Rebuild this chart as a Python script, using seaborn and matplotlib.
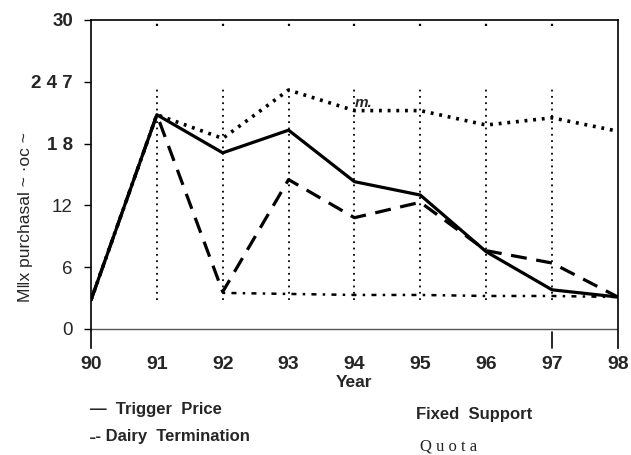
import numpy as np
import pandas as pd
import seaborn as sns
import matplotlib.pyplot as plt

# data
years = [90, 91, 92, 93, 94, 95, 96, 97, 98]
trigger_price = [2.8, 20.8, 17.1, 19.3, 14.3, 13.0, 7.5, 3.8, 3.1]
dairy_termination = [2.8, 20.8, 3.6, 14.5, 10.8, 12.3, 7.6, 6.4, 3.1]
fixed_support = [2.8, 20.8, 18.5, 23.2, 21.2, 21.2, 19.8, 20.5, 19.2]
quota = [np.nan, np.nan, 3.5, 3.4, 3.3, 3.3, 3.2, 3.2, 3.1]

ytick_vals = [0, 6, 12, 18, 24, 30]
ytick_labels = ["0", "6", "12", "1 8", "2 4 7", "30"]

sns.set_style("white")
plt.rcParams['font.family'] = ['Liberation Sans', 'DejaVu Sans']

fig = plt.figure(figsize=(6.31, 4.55), dpi=100)
ax = fig.add_axes([0.1442, 0.2352, 0.835, 0.7209])

df = pd.DataFrame({
    'Year': years,
    'Trigger Price': trigger_price,
    'Dairy Termination': dairy_termination,
    'Fixed Support': fixed_support,
    'Quota': quota,
})

# vertical dotted guide lines
for yr in years[1:-1]:
    ax.vlines(yr, 2.8, 23.5, colors='black', linestyles=(0, (1, 2.5)), lw=1.3)
    ax.plot([yr, yr], [29.4, 30.5], color='black', lw=1.6,
            linestyle=(0, (1, 4)), clip_on=False)

sns.lineplot(data=df, x='Year', y='Quota', ax=ax, color='black', lw=1.8,
             linestyle=(0, (1, 2.5, 2, 2.5)))
sns.lineplot(data=df, x='Year', y='Fixed Support', ax=ax, color='black', lw=2.6,
             linestyle=(0, (0.8, 1.6)))
sns.lineplot(data=df, x='Year', y='Dairy Termination', ax=ax, color='black', lw=2.3,
             linestyle=(0, (5, 3)))
sns.lineplot(data=df, x='Year', y='Trigger Price', ax=ax, color='black', lw=2.3)

ax.axhline(0, color='#555555', lw=1.0)
ax.text(94, 21.3, 'm.', fontsize=11, fontweight='bold', style='italic', ha='left', va='bottom')

ax.set_xlim(90, 98)
ax.set_ylim(-1.85, 30)
ax.set_xticks(years)
ax.set_xticklabels([str(y) for y in years], fontsize=14, fontweight='bold')
ax.tick_params(axis='x', length=0, pad=6)
ax.set_yticks(ytick_vals)
ax.set_yticklabels(ytick_labels, fontsize=13.5)
for lab in ax.get_yticklabels():
    if lab.get_text() in ("1 8", "2 4 7", "30"):
        lab.set_fontweight('bold')
ax.tick_params(axis='y', length=5, width=1, direction='out', color='black', pad=8, left=True)
ax.plot([97, 97], [-1.85, -0.3], color='black', lw=1.2, clip_on=False)

for side in ['left', 'right', 'top']:
    ax.spines[side].set_color('black')
    ax.spines[side].set_linewidth(1.2)
ax.spines['bottom'].set_visible(False)

ax.set_xlabel('Year', fontsize=12.5, fontweight='bold', labelpad=1)
ax.set_ylabel('M\u2016x purchasal ~ \u00b7oc ~', fontsize=12.5, labelpad=4)
ax.yaxis.set_label_coords(-0.11, 0.4)

# legend written as text below the plot
fig.text(0.143, 0.099, '\u2014  Trigger  Price', fontsize=12, fontweight='bold', va='center')
fig.text(0.143, 0.040, '\u02d7- Dairy  Termination', fontsize=12, fontweight='bold', va='center')
fig.text(0.660, 0.088, 'Fixed  Support', fontsize=12, fontweight='bold', va='center')
fig.text(0.666, 0.018, 'Q u o t a', fontsize=12, family='Liberation Serif', va='center')

fig.savefig('out.png', dpi=100)
